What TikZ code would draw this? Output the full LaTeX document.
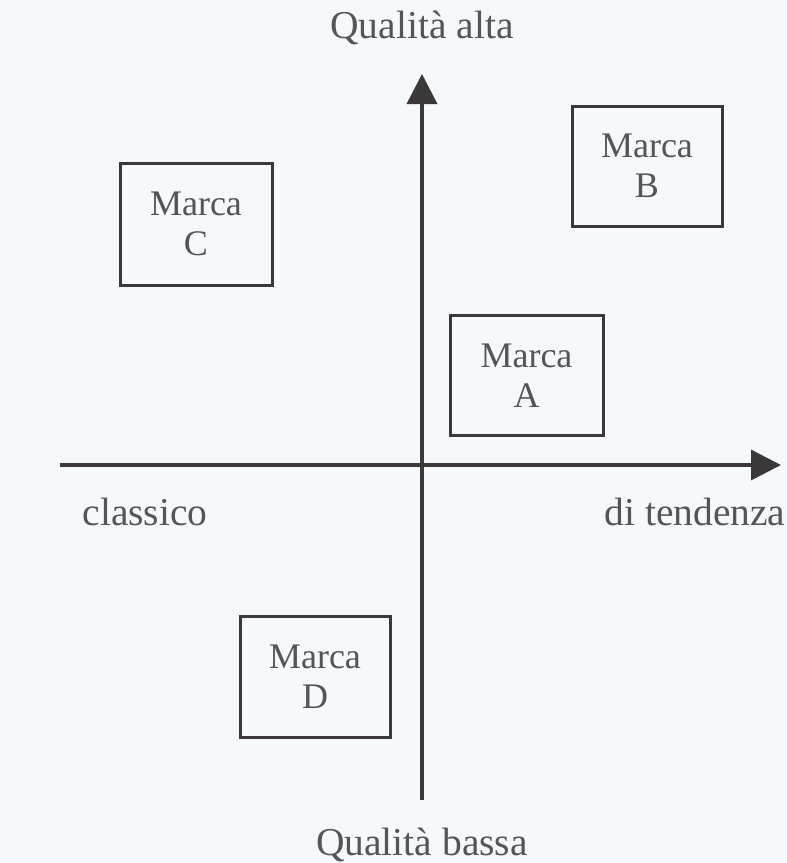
\documentclass[tikz,border=0pt]{standalone}
\usepackage{fontspec}
\setmainfont{Liberation Serif}
\usetikzlibrary{arrows.meta}
\definecolor{paper}{HTML}{F5F9FB}
\definecolor{ink}{HTML}{3A3838}
\definecolor{txt}{HTML}{555555}
\begin{document}
\begin{tikzpicture}[x=1pt,y=-1pt,
  lbl/.style={text=txt,font=\fontsize{39.5}{44}\selectfont,inner sep=0pt},
  brand/.style={draw=ink,line width=3pt,minimum width=150pt,minimum height=120pt,
    align=center,text=txt,font=\fontsize{36}{40}\selectfont},
  axis/.style={draw=ink,line width=3.5pt,-{Triangle[length=30pt,width=30pt]}}]
  \fill[paper] (0,0) rectangle (787,863);
  \useasboundingbox (0,0) rectangle (787,863);
  % axes
  \coordinate (ybot) at (422,800);
  \coordinate (ytop) at (422,74);
  \coordinate (xl) at (60,465);
  \coordinate (xr) at (781,465);
  \draw[axis] (ybot) -- (ytop);
  \draw[axis] (xl) -- (xr);
  % axis labels
  \node[lbl] (qa) at (422,28) {Qualità alta};
  \node[lbl] (qb) at (422,845) {Qualità bassa};
  \node[lbl] (cl) at (145,512) {classico};
  \node[lbl] (dt) at (695,512) {di tendenza};
  % brands
  \node[brand,minimum width=152pt,minimum height=122pt] (C) at (196,224) {Marca\\C};
  \node[brand] (B) at (647,166) {Marca\\B};
  \node[brand,minimum width=153pt] (A) at (526.5,375.5) {Marca\\A};
  \node[brand,minimum height=121pt] (D) at (315,676.5) {Marca\\D};
\end{tikzpicture}
\end{document}
